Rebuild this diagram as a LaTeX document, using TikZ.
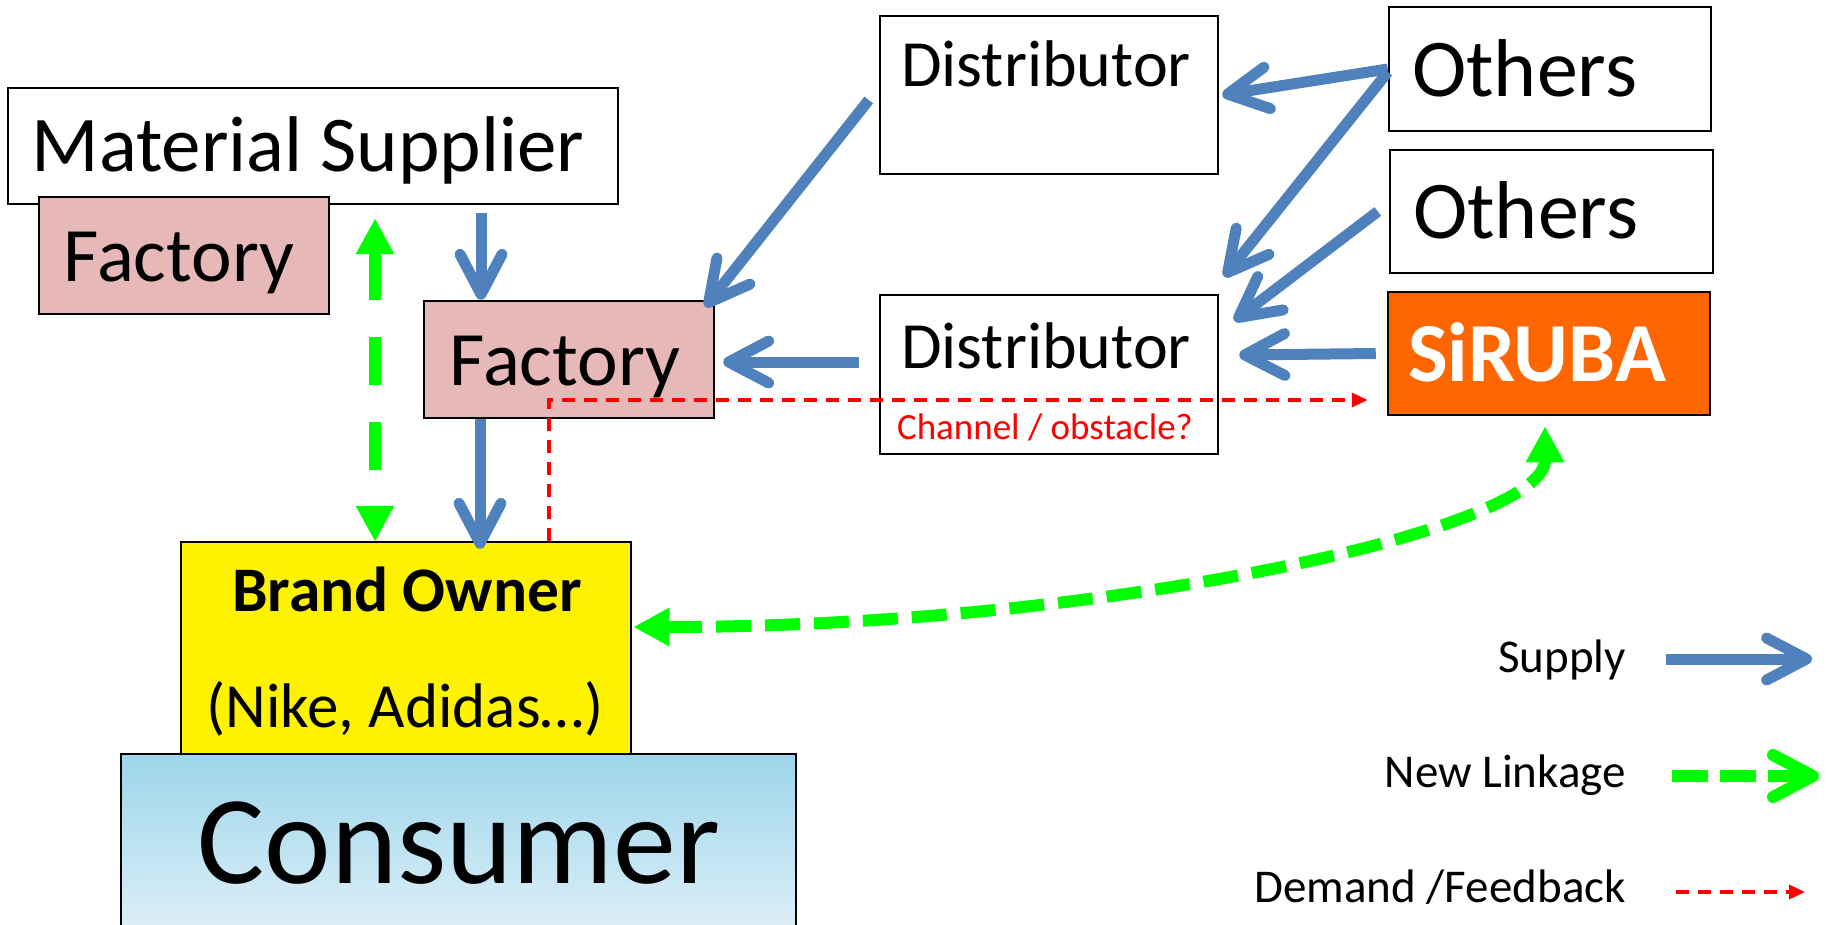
\documentclass[tikz,border=0pt]{standalone}
\usepackage{fontspec}
\setmainfont{Carlito}
\usetikzlibrary{arrows.meta,calc}
\definecolor{supblue}{RGB}{79,129,189}
\definecolor{lnkgreen}{RGB}{0,255,0}
\definecolor{facpink}{RGB}{230,184,183}
\definecolor{sirorange}{RGB}{255,102,0}
\definecolor{contop}{RGB}{157,213,234}
\definecolor{conbot}{RGB}{222,240,248}
\definecolor{fbred}{RGB}{255,0,0}
\begin{document}
\begin{tikzpicture}[x=1pt,y=-1pt,
  box/.style={draw=black,line width=2.5pt,inner sep=0pt,rectangle},
  txt/.style={anchor=base,inner sep=0pt},
  supply/.style={draw=supblue,line width=11pt,arrows={-Straight Barb[length=40pt,width=42pt,round]}},
  linkv/.style={draw=lnkgreen,line width=11.5pt,dash pattern=on 48pt off 37pt,
     arrows={Triangle[length=36pt,width=36pt]-Triangle[length=36pt,width=36pt]}},
  linkc/.style={draw=lnkgreen,line width=12pt,dash pattern=on 35pt off 14pt,
     arrows={Triangle[length=36pt,width=36pt]-Triangle[length=36pt,width=36pt]}},
  linkleg/.style={draw=lnkgreen,line width=12pt,dash pattern=on 36pt off 12pt,
     arrows={-Straight Barb[length=40pt,width=42pt,round]}},
  feedback/.style={draw=fbred,line width=3.5pt,dash pattern=on 13pt off 9pt,
     arrows={-Triangle[length=16pt,width=14pt]}},
  legtxt/.style={anchor=base east,inner sep=0pt,font=\fontsize{47}{56}\selectfont}
]
\useasboundingbox (0,0) rectangle (1827,925);

% boxes
\node[box,fill=white,minimum width=610pt,minimum height=116pt] (ms) at (313,146) {};
\node[txt,font=\fontsize{79}{95}\selectfont] (mstxt) at (308,172) {Material Supplier};
\node[box,fill=facpink,minimum width=290pt,minimum height=117pt] (fac1) at (184,255.5) {};
\node[txt,font=\fontsize{77}{92}\selectfont] (fac1txt) at (179,281) {Factory};
\node[box,fill=facpink,minimum width=290pt,minimum height=117pt] (fac2) at (569,359.5) {};
\node[txt,font=\fontsize{77}{92}\selectfont] (fac2txt) at (565,385) {Factory};

\node[box,fill=white,minimum width=338pt,minimum height=158pt] (dist1) at (1049,95) {};
\node[txt,font=\fontsize{66}{79}\selectfont] (dist1txt) at (1046,87) {Distributor};
\node[box,fill=white,minimum width=338pt,minimum height=159pt] (dist2) at (1049,374.5) {};
\node[txt,font=\fontsize{66}{79}\selectfont] (dist2txt) at (1046,368) {Distributor};

\node[box,fill=white,minimum width=322pt,minimum height=124pt] (o1) at (1550,69) {};
\node[txt,anchor=base west,font=\fontsize{82}{98}\selectfont] (o1txt) at (1412,97) {Others};
\node[box,fill=white,minimum width=323pt,minimum height=123pt] (o2) at (1551.5,211.5) {};
\node[txt,anchor=base west,font=\fontsize{82}{98}\selectfont] (o2txt) at (1413,239) {Others};
\node[box,fill=sirorange,minimum width=322pt,minimum height=123pt] (siruba) at (1549,353.5) {};
\node[txt,anchor=base west,text=white,font=\fontsize{84}{100}\selectfont\bfseries] (sirtxt) at (1408,381) {SiRUBA};

\node[box,fill=yellow,minimum width=450pt,minimum height=213pt] (brand) at (406,648.5) {};
\node[txt,font=\fontsize{63.5}{76}\selectfont\bfseries] (brandtxt) at (407,611) {Brand Owner};
\node[txt,font=\fontsize{63}{76}\selectfont] (brandex) at (405,727) {(Nike, Adidas…)};

\node[box,top color=contop,bottom color=conbot,minimum width=675pt,minimum height=181pt] (cons) at (458.5,844.5) {};
\node[txt,font=\fontsize{126}{150}\selectfont] (constxt) at (459,883) {Consumer};

% feedback (red dashed)
\draw[feedback] ([xshift=143pt]brand.north) |- ([xshift=-19pt,yshift=-46.5pt]siruba.west);
\node[txt,text=fbred,font=\fontsize{37}{44}\selectfont] (chan) at (1045,439) {Channel / obstacle?};

% supply arrows
\draw[supply] ([xshift=168pt,yshift=-8pt]ms.south) -- ([xshift=-88pt]fac2.north);
\draw[supply] ([xshift=-89pt]fac2.south) -- ([xshift=74pt,yshift=-8pt]brand.north);
\draw[supply] ([xshift=-10pt,yshift=-5pt]dist1.west) -- ([xshift=-10pt,yshift=-7pt]fac2.north east);
\draw[supply] (o1.west) -- ([xshift=3pt]dist1.east);
\draw[supply] ([yshift=-3pt]o1.west) -- ([xshift=5pt,yshift=17pt]dist2.north east);
\draw[supply] ([xshift=-11pt]o2.west) -- ([xshift=15pt,yshift=-27pt]dist2.north east);
\draw[supply] ([xshift=-11pt]siruba.west) -- ([xshift=20pt,yshift=19.5pt]dist2.east);
\draw[supply] ([xshift=-20pt,yshift=12.5pt]dist2.west) -- ([xshift=8pt,yshift=-2.5pt]fac2.east);

% new linkage arrows
\draw[linkv] ([xshift=62pt,yshift=-13pt]ms.south) -- ([xshift=-31pt,yshift=-1pt]brand.north);
\draw[linkc] ([xshift=1pt,yshift=21.5pt]brand.east) .. controls (1100,627) and (1545,530) .. ([xshift=-4pt,yshift=-10pt]siruba.south);

% legend
\node[legtxt] (lsup) at (1626,672) {Supply};
\node[legtxt] (llink) at (1626,787) {New Linkage};
\node[legtxt] (lfb) at (1626,902) {Demand /Feedback};
\draw[supply] ([xshift=40pt,yshift=13pt]lsup.base east) -- ([xshift=186pt,yshift=13pt]lsup.base east);
\draw[linkleg] ([xshift=46pt,yshift=11pt]llink.base east) -- ([xshift=193pt,yshift=11pt]llink.base east);
\draw[feedback] ([xshift=50pt,yshift=10pt]lfb.base east) -- ([xshift=179pt,yshift=10pt]lfb.base east);
\end{tikzpicture}
\end{document}
